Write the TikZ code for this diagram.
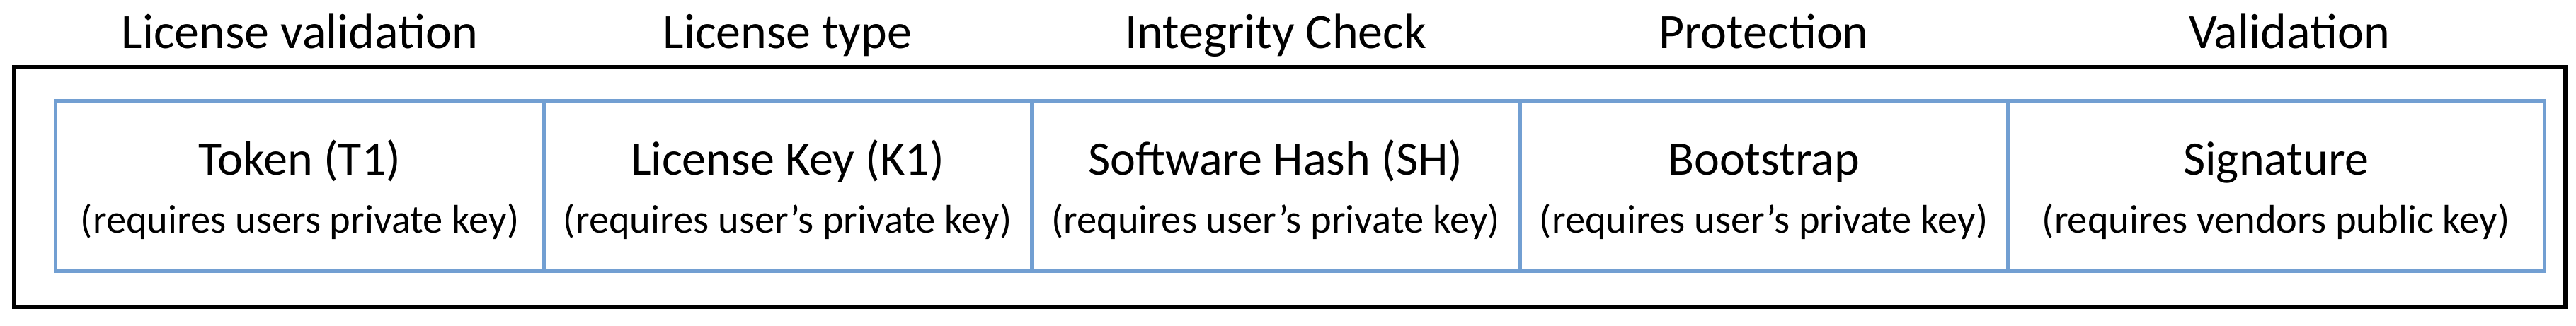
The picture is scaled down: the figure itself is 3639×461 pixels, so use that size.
\documentclass[tikz,border=0pt]{standalone}
\usepackage{fontspec}
\setmainfont{Carlito}
\definecolor{boxblue}{RGB}{114,159,210}
\begin{document}
\begin{tikzpicture}[x=0.2pt,y=-0.2pt,
  frame/.style={draw=black,line width=1.1pt,inner sep=0pt,outer sep=0pt,minimum width=720.8pt,minimum height=67.8pt},
  cell/.style={draw=boxblue,line width=1pt,inner sep=0pt,outer sep=0pt,minimum height=48.2pt},
  head/.style={anchor=base,inner sep=0pt,font=\fontsize{14}{17}\selectfont},
  title/.style={anchor=base,inner sep=0pt,font=\fontsize{13.6}{16}\selectfont},
  sub/.style={anchor=base,inner sep=0pt,font=\fontsize{11.3}{13}\selectfont}]
\useasboundingbox (0,0) rectangle (3639,461);
\node[frame] (outer) at (1822,264.5) {};
\node[cell,minimum width=137.8pt] (b1) at (423.5,263.5) {};
\node[cell,minimum width=137.8pt] (b2) at (1112.5,263.5) {};
\node[cell,minimum width=138pt] (b3) at (1802,263.5) {};
\node[cell,minimum width=137.8pt] (b4) at (2491.5,263.5) {};
\node[cell,minimum width=151.6pt] (b5) at (3215,263.5) {};
\node[head] (h1) at (423.5,69) {License validation};
\node[head] (h2) at (1112.5,69) {License type};
\node[head] (h3) at (1802,69) {Integrity Check};
\node[head] (h4) at (2491.5,69) {Protection};
\node[head] (h5) at (3234,69) {Validation};
\node[title] (t1) at (423.5,248) {Token (T1)};
\node[title] (t2) at (1112.5,248) {License Key (K1)};
\node[title] (t3) at (1802,248) {Software Hash (SH)};
\node[title] (t4) at (2491.5,248) {Bootstrap};
\node[title] (t5) at (3215,248) {Signature};
\node[sub] (s1) at (423.5,330) {(requires users private key)};
\node[sub] (s2) at (1112.5,330) {(requires user’s private key)};
\node[sub] (s3) at (1802,330) {(requires user’s private key)};
\node[sub] (s4) at (2491.5,330) {(requires user’s private key)};
\node[sub] (s5) at (3215,330) {(requires vendors public key)};
\end{tikzpicture}
\end{document}
